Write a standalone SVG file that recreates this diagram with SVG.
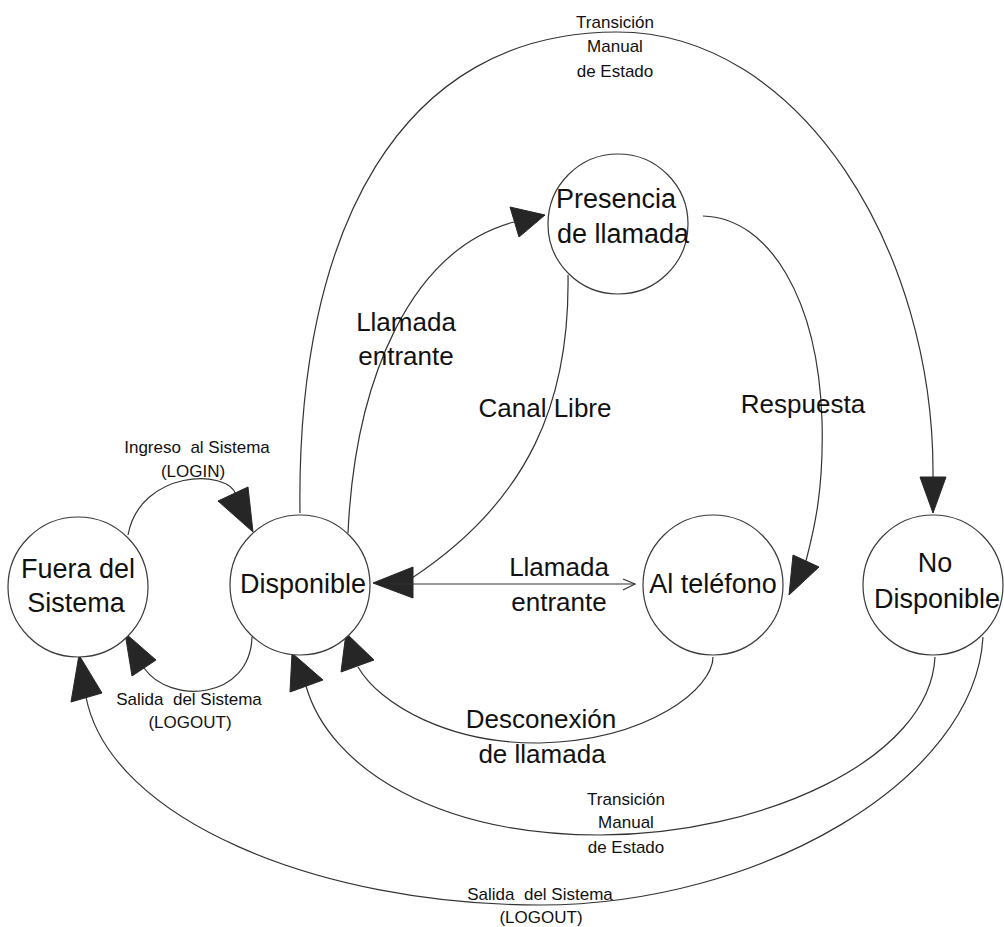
<svg xmlns="http://www.w3.org/2000/svg" width="1004" height="927" viewBox="0 0 1004 927">
  <style>
    .node { fill: #ffffff; stroke: #3a3a3a; stroke-width: 1.2; }
    .edge { fill: none; stroke: #333333; stroke-width: 1.2; }
    .head { fill: #262626; stroke: #262626; stroke-width: 1; stroke-linejoin: miter; }
    .open { fill: none; stroke: #333333; stroke-width: 1.2; }
    text { font-family: "Liberation Sans", Arial, sans-serif; fill: #111111; text-anchor: middle; }
    .big { font-size: 27px; }
    .mid { font-size: 26px; }
    .small { font-size: 17px; }
  </style>

  <rect width="1004" height="927" fill="#ffffff"/>

  <!-- transitions -->
  <g id="connectors">
    <!-- login: Fuera del Sistema -> Disponible -->
    <path class="edge" d="M128,535 C140,470 228,468 236,495"/>
    <polygon class="head" points="218,501 248,487 253,532"/>
    <!-- logout: Disponible -> Fuera del Sistema -->
    <path class="edge" d="M252,637 C250,700 170,705 144,668"/>
    <polygon class="head" points="125,633 156,660 132,676"/>
    <!-- Disponible -> Presencia de llamada -->
    <path class="edge" d="M348,533 C355,380 410,250 514,222"/>
    <polygon class="head" points="510,207 519,237 545,215"/>
    <!-- Presencia de llamada -> Disponible (Canal Libre) -->
    <path class="edge" d="M568,275 C570,400 530,500 412,578"/>
    <polygon class="head" points="373,583 413,567 413,598"/>
    <!-- Presencia de llamada -> Al teléfono (Respuesta) -->
    <path class="edge" d="M703,216 C770,218 818,300 822,420 C824,490 814,530 806,561"/>
    <polygon class="head" points="793,555 819,567 789,595"/>
    <!-- Disponible -> Al teléfono (Llamada entrante) -->
    <line class="edge" x1="390" y1="584" x2="635" y2="584"/>
    <polyline class="open" points="623,579 635,584 623,590"/>
    <!-- Al teléfono -> Disponible (Desconexión de llamada) -->
    <path class="edge" d="M713,657 C713,688 650,740 540,743 C450,744 380,705 358,667"/>
    <polygon class="head" points="346,633 374,660 341,672"/>
    <!-- Disponible -> No Disponible (top arc) -->
    <path class="edge" d="M300,513 C296,230 400,32 617,32 C800,32 935,250 933,477"/>
    <polygon class="head" points="920,477 946,477 933,513"/>
    <!-- No Disponible -> Disponible (bottom arc) -->
    <path class="edge" d="M935,657 C930,760 760,835 600,835 C440,835 330,770 306,686"/>
    <polygon class="head" points="292,653 323,680 290,692"/>
    <!-- No Disponible -> Fuera del Sistema (outer arc) -->
    <path class="edge" d="M983,637 C975,780 760,905 540,905 C320,905 110,820 86,697"/>
    <polygon class="head" points="79,655 102,693 71,702"/>
  </g>

  <!-- transition labels -->
  <g id="labels">
    <text class="small" x="615" y="28">Transición</text>
    <text class="small" x="615" y="52">Manual</text>
    <text class="small" x="615" y="77">de Estado</text>

    <text class="mid" x="406" y="331">Llamada</text>
    <text class="mid" x="406" y="365">entrante</text>

    <text class="mid" x="545" y="417">Canal Libre</text>
    <text class="mid" x="803" y="413">Respuesta</text>

    <text class="small" x="197" y="453" xml:space="preserve">Ingreso  al Sistema</text>
    <text class="small" x="193" y="477">(LOGIN)</text>

    <text class="mid" x="559" y="576">Llamada</text>
    <text class="mid" x="559" y="611">entrante</text>

    <text class="small" x="189" y="705" xml:space="preserve">Salida  del Sistema</text>
    <text class="small" x="190" y="728">(LOGOUT)</text>

    <text class="mid" x="541" y="728">Desconexión</text>
    <text class="mid" x="542" y="763">de llamada</text>

    <text class="small" x="626" y="805">Transición</text>
    <text class="small" x="626" y="828">Manual</text>
    <text class="small" x="626" y="853">de Estado</text>

    <text class="small" x="540" y="900" xml:space="preserve">Salida  del Sistema</text>
    <text class="small" x="541" y="923">(LOGOUT)</text>
  </g>

  <!-- states -->
  <g id="fuera">
    <circle class="node" cx="78" cy="587" r="70"/>
    <text class="big" x="78" y="578">Fuera del</text>
    <text class="big" x="76" y="612">Sistema</text>
  </g>
  <g id="disponible">
    <circle class="node" cx="300" cy="585" r="70"/>
    <text class="big" x="303" y="593">Disponible</text>
  </g>
  <g id="presencia">
    <circle class="node" cx="618" cy="224" r="70"/>
    <text class="big" x="616" y="208">Presencia</text>
    <text class="big" x="623" y="243">de llamada</text>
  </g>
  <g id="telefono">
    <circle class="node" cx="713" cy="585" r="70"/>
    <text class="big" x="713" y="593">Al teléfono</text>
  </g>
  <g id="nodisponible">
    <circle class="node" cx="933" cy="585" r="70"/>
    <text class="big" x="935" y="572">No</text>
    <text class="big" x="937" y="608">Disponible</text>
  </g>
</svg>
